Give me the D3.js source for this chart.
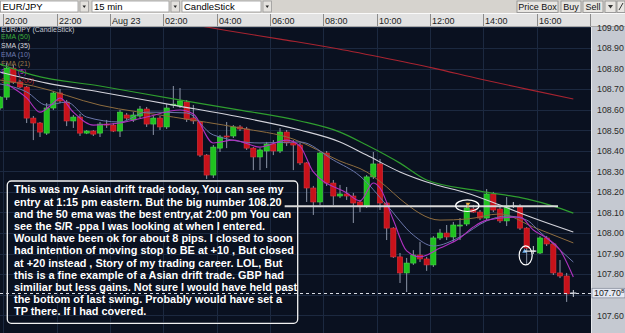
<!DOCTYPE html>
<html><head><meta charset="utf-8">
<script src="https://cdn.jsdelivr.net/npm/d3@7"></script>
<style>body{margin:0;background:#d6d3ce;overflow:hidden}svg{display:block;font-family:"Liberation Sans",Arial,sans-serif}</style>
</head><body><svg id="c" width="625" height="333"></svg>
<script>
// ---------- DATA ----------
const openP  = [108.608,108.661,108.802,108.734,108.710,108.559,108.535,108.486,108.608,108.681,108.637,108.545,108.564,108.486,108.496,108.486,108.530,108.525,108.496,108.574,108.550,108.569,108.603,108.530,108.559,108.516,108.623,108.618,108.637,108.559,108.540,108.379,108.282,108.413,108.472,108.472,108.516,108.506,108.413,108.370,108.399,108.433,108.399,108.491,108.438,108.428,108.341,108.219,108.151,108.389,108.243,108.180,108.190,108.180,108.151,108.132,108.273,108.336,108.146,108.024,107.884,107.806,107.854,107.893,107.874,107.845,107.976,108.000,107.981,108.034,108.044,108.117,108.102,108.073,108.190,108.117,108.059,108.130,108.127,108.024,107.912,107.903,107.976,107.947,107.806,107.791,107.708];
const highP  = [108.666,108.827,108.817,108.744,108.715,108.569,108.540,108.632,108.691,108.700,108.647,108.574,108.579,108.501,108.501,108.540,108.550,108.535,108.598,108.584,108.588,108.618,108.613,108.569,108.569,108.627,108.715,108.705,108.647,108.623,108.545,108.384,108.428,108.477,108.540,108.525,108.525,108.516,108.418,108.413,108.443,108.452,108.511,108.501,108.452,108.438,108.345,108.229,108.394,108.399,108.258,108.234,108.224,108.195,108.161,108.282,108.394,108.360,108.151,108.029,107.903,107.879,107.917,107.957,107.884,107.985,108.020,108.039,108.054,108.073,108.141,108.136,108.112,108.214,108.200,108.127,108.175,108.151,108.141,108.029,107.937,107.985,107.985,107.952,107.869,107.806,107.723];
const lowP   = [108.598,108.647,108.725,108.705,108.535,108.452,108.467,108.477,108.598,108.632,108.520,108.511,108.472,108.481,108.472,108.467,108.511,108.491,108.467,108.550,108.540,108.559,108.516,108.477,108.501,108.506,108.608,108.608,108.540,108.530,108.370,108.263,108.268,108.394,108.413,108.462,108.496,108.404,108.306,108.306,108.316,108.379,108.389,108.423,108.306,108.331,108.151,108.088,108.136,108.229,108.136,108.170,108.161,108.049,108.102,108.122,108.263,108.112,107.966,107.879,107.757,107.713,107.845,107.859,107.816,107.835,107.966,107.966,107.957,107.966,108.034,108.098,108.063,108.063,108.102,108.049,108.034,108.122,108.015,107.850,107.898,107.898,107.937,107.796,107.781,107.665,107.689];
const closeP = [108.661,108.802,108.734,108.710,108.559,108.535,108.491,108.608,108.681,108.642,108.545,108.564,108.486,108.496,108.481,108.530,108.525,108.496,108.588,108.559,108.574,108.603,108.530,108.559,108.516,108.608,108.627,108.642,108.554,108.545,108.379,108.282,108.418,108.467,108.467,108.516,108.506,108.413,108.370,108.404,108.433,108.399,108.491,108.438,108.428,108.341,108.219,108.151,108.389,108.243,108.180,108.190,108.180,108.146,108.132,108.273,108.336,108.146,108.024,107.884,107.806,107.854,107.893,107.874,107.845,107.976,108.000,107.981,108.039,108.039,108.122,108.102,108.073,108.190,108.112,108.059,108.132,108.130,108.024,107.927,107.912,107.976,107.947,107.806,107.791,107.704,107.708];

const timeLabels = ["20:00","22:00","Aug 23","02:00","04:00","06:00","08:00","10:00","12:00","14:00","16:00"];
const timeLabelCandle = [1,9,17,25,33,41,49,57,65,73,81];
const priceTicks = [109.0,108.9,108.8,108.7,108.6,108.5,108.4,108.3,108.2,108.1,108.0,107.9,107.8,107.6];
const lastPrice = 107.708;

const ema50Idx = [0,5,15,26,36,45,51,55,60,64,72,79,83,86];
const ema50Val = [108.822,108.768,108.715,108.652,108.598,108.545,108.491,108.428,108.340,108.258,108.204,108.166,108.131,108.097];
const sma35Idx = [0,7,15,26,36,45,51,55,60,65,70,75,80,86];
const sma35Val = [108.783,108.729,108.686,108.622,108.564,108.501,108.443,108.379,108.297,108.238,108.195,108.136,108.073,108.005];
const ema21Idx = [0,5,15,26,36,44,51,55,58,60,66,70,75,80,86];
const ema21Val = [108.744,108.715,108.622,108.564,108.511,108.457,108.350,108.297,108.224,108.166,108.063,108.068,108.093,108.029,107.952];
const ema10Idx = [0,4,7,10,13,18,22,28,32,39,45,50,54,58,62,65,69,73,76,79,81,86];
const ema10Val = [108.725,108.686,108.622,108.637,108.564,108.540,108.588,108.584,108.477,108.438,108.443,108.355,108.277,108.136,107.990,107.937,107.981,108.059,108.083,108.063,108.005,107.859];
const sma5Idx = [1,4,6,8,9,11,14,18,22,27,29,32,35,39,43,45,47,52,54,56,57,59,61,63,66,69,71,73,78,80,82,84,86];
const sma5Val = [108.725,108.657,108.588,108.632,108.657,108.588,108.525,108.535,108.564,108.598,108.579,108.438,108.452,108.418,108.452,108.423,108.297,108.195,108.156,108.243,108.219,108.063,107.913,107.884,107.927,107.976,108.029,108.063,108.078,108.015,107.976,107.918,107.786];
const sma200Idx = [26,34,42,50,57,65,72,79,86];
const sma200Val = [109.030,108.985,108.943,108.900,108.856,108.802,108.749,108.700,108.652];

const legendNames = ["EMA (50)","SMA (35)","EMA (10)","EMA (21)","SMA (5)","SMA (200)"];

const srLevel = 108.130, srFrom = 42.7, srTo = 83.7;
const noteLines = [
"This was my Asian drift trade today, You can see my",
"entry at 1:15 pm eastern. But the big number 108.20",
"and the 50 ema was the best entry,at 2:00 pm You can",
"see the S/R -ppa I was looking at when I entered.",
"Would have been ok for about 8 pips. I closed to soon",
"had intention of moving stop to BE at +10 , But closed",
"at +20 instead , Story of my trading career.  LOL, But",
"this is a fine example of a Asian drift trade. GBP had",
"similiar but less gains. Not sure I would have held past",
"the bottom of last swing. Probably would have set a",
"TP there. If I had covered."];

// ---------- SETUP ----------
const W=625,H=333, CR=591, CT=27;
const svg=d3.select("#c");
const x=d3.scaleLinear().domain([0,87]).range([0,580]);
const y=d3.scaleLinear().domain([107.6,109.0]).range([315.3,27.4]);
const BG="#0a1120", GRID="#1c2940";
const defs=svg.append("defs");
defs.append("clipPath").attr("id","clip").append("rect").attr("x",0).attr("y",CT).attr("width",CR).attr("height",H-CT);

// control bar
svg.append("rect").attr("width",W).attr("height",13).attr("fill","#d6d3ce");
const combos=[{t:"EUR/JPY",a:0.5,b:78},{t:"15 min",a:92,b:169},{t:"CandleStick",a:182,b:261}];
combos.forEach(c=>{
  svg.append("rect").attr("x",c.a).attr("y",1).attr("width",c.b-c.a).attr("height",11).attr("fill","#fff").attr("stroke","#9a9a9a").attr("stroke-width",0.8);
  svg.append("text").attr("x",c.a+2).attr("y",10).attr("font-size",9.5).attr("fill","#000").text(c.t);
  const bx=c.b+2;
  svg.append("rect").attr("x",bx).attr("y",1).attr("width",8.5).attr("height",11).attr("fill","#e4e2de").attr("stroke","#9a9a9a").attr("stroke-width",0.8);
  svg.append("path").attr("d",`M${bx+2.5},5.5 L${bx+6},5.5 L${bx+4.25},8 Z`).attr("fill","#222");
});
const btns=[{t:"Price Box",a:517,b:558},{t:"Buy",a:561,b:581},{t:"Sell",a:583,b:603},{t:"",a:605,b:616},{t:"",a:617,b:625}];
btns.forEach(c=>{
  svg.append("rect").attr("x",c.a).attr("y",1).attr("width",c.b-c.a).attr("height",11.5).attr("fill","#e8e6e2").attr("stroke","#8a8a8a").attr("stroke-width",0.8);
  if(c.t) svg.append("text").attr("x",(c.a+c.b)/2).attr("y",10).attr("text-anchor","middle").attr("font-size",9).attr("fill","#111").text(c.t);
});
svg.append("path").attr("d","M608,5 L613,5 L610.5,8.5 Z").attr("fill","#333");
svg.append("path").attr("d","M619,10 L623,3").attr("stroke","#333").attr("stroke-width",1);

// time bar
svg.append("rect").attr("x",0).attr("y",13).attr("width",W).attr("height",14).attr("fill","#e2e2e2");
svg.append("line").attr("x1",0).attr("x2",W).attr("y1",13.5).attr("y2",13.5).attr("stroke","#fafafa");
svg.append("line").attr("x1",0).attr("x2",W).attr("y1",26.5).attr("y2",26.5).attr("stroke","#a8a8a8");
const tg=svg.append("g");
timeLabels.forEach((t,k)=>{
  const sx=Math.round(x(timeLabelCandle[k]-0.5))+0.5;
  tg.append("line").attr("x1",sx).attr("x2",sx).attr("y1",14).attr("y2",26).attr("stroke","#8c8c8c");
  tg.append("text").attr("x",sx+1.5).attr("y",24).attr("font-size",9).attr("fill","#222").text(t);
});
svg.append("line").attr("x1",590.5).attr("x2",590.5).attr("y1",14).attr("y2",26).attr("stroke","#8c8c8c");

// chart bg
svg.append("rect").attr("x",0).attr("y",CT).attr("width",CR).attr("height",H-CT).attr("fill",BG);
svg.append("rect").attr("x",CR).attr("y",CT).attr("width",W-CR).attr("height",H-CT).attr("fill","#c5c9d1");
svg.append("line").attr("x1",CR+0.5).attr("x2",CR+0.5).attr("y1",CT).attr("y2",H).attr("stroke","#e6e8ec");

function drawGrid(g){
  timeLabelCandle.forEach(c=>{const sx=Math.round(x(c-0.5))+0.5;
    g.append("line").attr("x1",sx).attr("x2",sx).attr("y1",CT).attr("y2",H).attr("stroke",GRID).attr("stroke-width",1);});
  priceTicks.concat([107.7]).forEach(p=>{const sy=Math.round(y(p))+0.5;
    g.append("line").attr("x1",0).attr("x2",CR).attr("y1",sy).attr("y2",sy).attr("stroke",GRID).attr("stroke-width",1);});
}
const plot=svg.append("g").attr("clip-path","url(#clip)");
drawGrid(plot.append("g"));

// legend
const legColors=["#3cae3c","#d8d8de","#6e7bb0","#9a7848","#b83cc4","#b02424"];
plot.append("text").attr("x",1).attr("y",31.5).attr("font-size",7).attr("fill","#c4c8d0").text("EUR/JPY (CandleStick)");
legendNames.forEach((n,k)=>plot.append("text").attr("x",1).attr("y",38.8+k*8.9).attr("font-size",7).attr("fill",legColors[k]).text(n));

// candles
const idx=d3.range(openP.length);
const cg=plot.append("g");
idx.forEach(i=>{
  const o=openP[i],c=closeP[i],cx=x(i);
  const doji=Math.abs(o-c)<0.002;
  cg.append("line").attr("x1",cx).attr("x2",cx).attr("y1",y(highP[i])).attr("y2",y(lowP[i]))
    .attr("stroke",doji?"#d0d4dc":"#8d96a8").attr("stroke-width",1);
  if(doji){
    cg.append("line").attr("x1",cx-3).attr("x2",cx+3).attr("y1",y(c)).attr("y2",y(c)).attr("stroke","#d0d4dc").attr("stroke-width",1.3);
  } else {
    const up=c>o, top=y(Math.max(o,c)), h=Math.max(1,Math.abs(y(o)-y(c)));
    cg.append("rect").attr("x",cx-2.6).attr("y",top).attr("width",5.2).attr("height",h)
      .attr("fill",up?"#1fc21f":"#c8121a").attr("stroke",up?"#4ad84a":"#e0333a").attr("stroke-width",0.6);
  }
});

// MA lines
const line=d3.line().x(d=>x(d[0])).y(d=>y(d[1])).curve(d3.curveMonotoneX);
const mas=[[sma200Idx,sma200Val,"#a82430",1.1],[ema50Idx,ema50Val,"#2f9e2f",1.2],[sma35Idx,sma35Val,"#d4d4dc",1.1],[ema21Idx,ema21Val,"#8e6c3e",1],[ema10Idx,ema10Val,"#6a76aa",1],[sma5Idx,sma5Val,"#b032c0",1.1]];
mas.forEach(m=>plot.append("path").datum(d3.zip(m[0],m[1])).attr("d",line).attr("fill","none").attr("stroke",m[2]).attr("stroke-width",m[3]));

// note box (opaque, grid visible through)
const box={x:7.3,y:181,w:290.4,h:142.3};
plot.append("rect").attr("x",box.x).attr("y",box.y).attr("width",box.w).attr("height",box.h).attr("rx",4).attr("fill",BG);
defs.append("clipPath").attr("id","boxclip").append("rect").attr("x",box.x+1).attr("y",box.y+1).attr("width",box.w-2).attr("height",box.h-2);
drawGrid(plot.append("g").attr("clip-path","url(#boxclip)"));
plot.append("rect").attr("x",box.x).attr("y",box.y).attr("width",box.w).attr("height",box.h).attr("rx",4).attr("fill","none").attr("stroke","#f2f2f2").attr("stroke-width",1.3);

// current price dashed line
plot.append("line").attr("x1",0).attr("x2",CR).attr("y1",Math.round(y(lastPrice))+0.5).attr("y2",Math.round(y(lastPrice))+0.5)
  .attr("stroke","#d8dce4").attr("stroke-dasharray","3,3").attr("stroke-width",1);

const tt=plot.append("text").attr("font-size",10.9).attr("font-weight","bold").attr("fill","#ffffff");
noteLines.forEach((l,k)=>tt.append("tspan").attr("x",14).attr("y",193.3+k*12.2).text(l));

// S/R line
plot.append("line").attr("x1",x(srFrom)).attr("x2",x(srTo)).attr("y1",y(srLevel)).attr("y2",y(srLevel)).attr("stroke","#d8d8d8").attr("stroke-width",2);

// annotations
plot.append("ellipse").attr("cx",x(70.1)).attr("cy",y(108.133)).attr("rx",11.7).attr("ry",5.8).attr("fill","none").attr("stroke","#fff").attr("stroke-width",1.2);
plot.append("path").attr("d",`M${x(70.2)-2.5},${y(108.147)} h5 l-2.5,3 z`).attr("fill","#f0b040");
plot.append("line").attr("x1",x(70.2)).attr("x2",x(70.2)).attr("y1",y(108.147)+3).attr("y2",y(108.147)+5).attr("stroke","#f0b040");
plot.append("ellipse").attr("cx",x(78.85)).attr("cy",y(107.891)).attr("rx",6.5).attr("ry",9.5).attr("fill","none").attr("stroke","#fff").attr("stroke-width",1.2);
plot.append("path").attr("d",`M${x(78.7)-2.5},${y(107.912)+1.5} h5 l-2.5,-4 z`).attr("fill","#6ab0f0");
plot.append("line").attr("x1",x(78.7)).attr("x2",x(80.3)).attr("y1",y(107.912)).attr("y2",y(107.912)).attr("stroke","#e8e8e8").attr("stroke-width",1.2);

// price axis labels
const ax=svg.append("g").attr("transform",`translate(${CR},0)`).call(d3.axisRight(y).tickValues(priceTicks).tickSize(0).tickPadding(6).tickFormat(d3.format(".2f")));
ax.select(".domain").remove();
ax.selectAll("text").attr("font-size",8.8).attr("fill","#2a2a2a").attr("font-family","Liberation Sans, Arial, sans-serif");
const ly=y(lastPrice);
svg.append("rect").attr("x",CR+1).attr("y",ly-4.8).attr("width",W-CR-1).attr("height",9.6).attr("fill","#e4e8f2").attr("stroke","#7d8494").attr("stroke-width",0.7);
const lt=svg.append("text").attr("x",CR+3).attr("y",ly+3.2).attr("font-size",8.8).attr("fill","#222");
lt.append("tspan").text(d3.format(".2f")(Math.floor(lastPrice*100)/100));
lt.append("tspan").attr("font-size",6).attr("dy",-3).text(Math.round(lastPrice*1000)%10);
</script></body></html>
